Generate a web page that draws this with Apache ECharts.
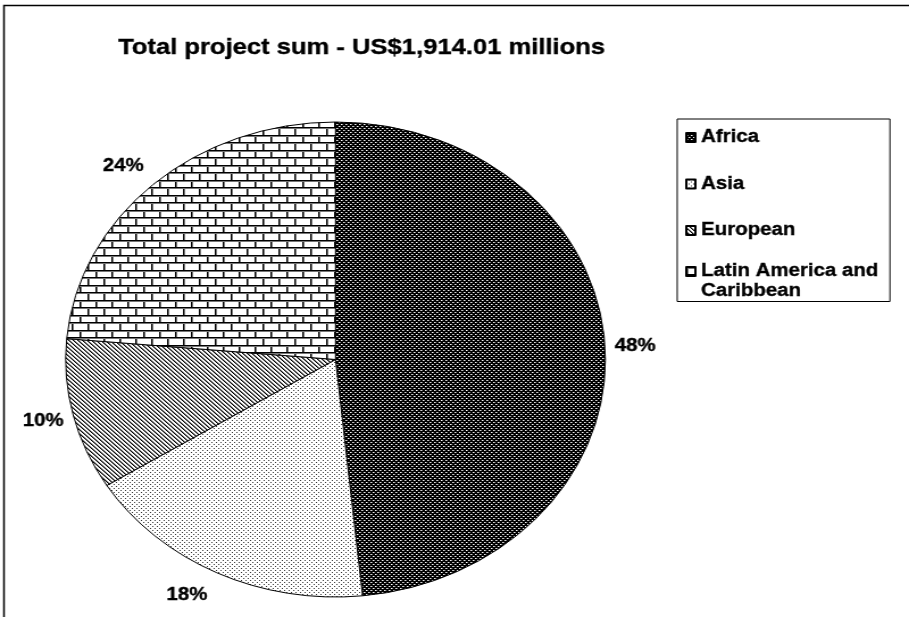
<!DOCTYPE html>
<html>
<head>
<meta charset="utf-8">
<script src="https://cdn.jsdelivr.net/npm/echarts@6/dist/echarts.min.js"></script>
<style>
html,body{margin:0;padding:0;background:#fff;overflow:hidden;width:909px;height:617px;}
#chart{width:800px;height:617px;transform:scaleX(1.13625);transform-origin:0 0;}
</style>
</head>
<body>
<div id="chart"></div>
<script>
// ---- data ----
const titleText = 'Total project sum - US$1,914.01 millions';
const categories = ['Africa', 'Asia', 'European', 'Latin America and Caribbean'];
const shares = [48.4, 17.7, 10.3, 23.6]; // percent of total

// ---- patterns ----
function makeTile(w, h, draw) {
  const c = document.createElement('canvas');
  c.width = w; c.height = h;
  const ctx = c.getContext('2d');
  draw(ctx, w, h);
  return c;
}
const patAfrica = makeTile(4, 4, (ctx) => {
  ctx.fillStyle = '#000'; ctx.fillRect(0, 0, 4, 4);
  ctx.fillStyle = '#ffffff'; ctx.fillRect(0, 0, 1, 1); ctx.fillRect(2, 2, 1, 1);
  ctx.fillStyle = '#888'; ctx.fillRect(1, 0, 1, 1); ctx.fillRect(3, 2, 1, 1);
});
const patAsia = makeTile(4, 4, (ctx) => {
  ctx.fillStyle = '#fff'; ctx.fillRect(0, 0, 4, 4);
  ctx.fillStyle = '#333'; ctx.fillRect(0, 0, 1, 1); ctx.fillRect(2, 2, 1, 1);
});
const patEurope = makeTile(4, 4, (ctx) => {
  ctx.fillStyle = '#fff'; ctx.fillRect(0, 0, 4, 4);
  for (let y = 0; y < 4; y++) for (let x = 0; x < 4; x++) {
    const m = ((x - y) % 4 + 4) % 4;
    if (m === 0) { ctx.fillStyle = '#000'; ctx.fillRect(x, y, 1, 1); }
    else if (m === 1) { ctx.fillStyle = '#808080'; ctx.fillRect(x, y, 1, 1); }
  }
});
const patLatin = makeTile(14, 15, (ctx) => {
  ctx.fillStyle = '#fff'; ctx.fillRect(0, 0, 14, 15);
  ctx.fillStyle = '#000';
  ctx.fillRect(0, 0, 14, 1); ctx.fillRect(0, 7, 14, 1);
  ctx.fillRect(0, 0, 1, 7); ctx.fillRect(7, 7, 1, 8);
  ctx.fillStyle = '#777';
  ctx.fillRect(0, 1, 14, 1); ctx.fillRect(0, 8, 14, 1);
  ctx.fillRect(1, 1, 1, 6); ctx.fillRect(8, 8, 1, 7);
});
const patterns = [patAfrica, patAsia, patEurope, patLatin];

// ---- layout ----
const pieCenter = [295.3, 359.5];
const pieRadius = 237.5;
const labelGapX = 26.4;
const labelGapY = 24.5;
const font = 'Liberation Sans, Arial, sans-serif';
const heavy = { textBorderColor: '#000', textBorderWidth: 0.35 };

// legend icons: square placed inside a taller icon box so that the
// two-line legend entry keeps its square next to the first line
const iconMid = 'path://M0,10h8v9h-8z M0,0 M0,29';
const iconTop = 'path://M0,0h8v9h-8z M0,29';

const total = shares.reduce((a, b) => a + b, 0);
function midAngle(i) {
  let before = 0;
  for (let k = 0; k < i; k++) before += shares[k];
  return (before + shares[i] / 2) / total * Math.PI * 2;
}

const chart = echarts.init(document.getElementById('chart'), null, { renderer: 'canvas' });
chart.setOption({
  animation: false,
  backgroundColor: '#fff',
  graphic: [{
    type: 'rect', silent: true, z: -1,
    shape: { x: 3.5, y: 5.5, width: 2000, height: 2000 },
    style: { fill: 'none', stroke: '#000', lineWidth: 1.5 }
  }],
  title: {
    text: titleText, left: 104, top: 37, padding: 0,
    textStyle: Object.assign({ fontFamily: font, fontWeight: 'bold', fontSize: 22.5, color: '#000', lineHeight: 22 }, heavy)
  },
  legend: {
    orient: 'vertical', left: 596, top: 119, padding: [3, 10, 0, 7],
    itemGap: 15.5, itemWidth: 8, itemHeight: 29,
    borderColor: '#000', borderWidth: 1, backgroundColor: '#fff',
    selectedMode: false,
    textStyle: Object.assign({ fontFamily: font, fontWeight: 'bold', fontSize: 18, color: '#000', lineHeight: 20 }, heavy),
    formatter: (name) => name === 'Latin America and Caribbean' ? 'Latin America and\nCaribbean' : name,
    data: categories.map((c, i) => ({ name: c, icon: i === categories.length - 1 ? iconTop : iconMid }))
  },
  series: [{
    type: 'pie',
    center: pieCenter,
    radius: pieRadius,
    startAngle: 90,
    clockwise: true,
    avoidLabelOverlap: false,
    emphasis: { disabled: true },
    itemStyle: { borderColor: '#000', borderWidth: 1 },
    label: Object.assign({
      show: true, position: 'outside',
      formatter: (p) => Math.round(p.percent) + '%',
      fontFamily: font, fontWeight: 'bold', fontSize: 18, color: '#000'
    }, heavy),
    labelLine: { show: false },
    labelLayout: (params) => {
      const a = midAngle(params.dataIndex);
      const ex = pieCenter[0] + pieRadius * Math.sin(a);
      const ey = pieCenter[1] - pieRadius * Math.cos(a);
      return {
        x: ex + Math.sign(Math.sin(a)) * labelGapX,
        y: ey - Math.cos(a) * labelGapY,
        align: 'center', verticalAlign: 'middle'
      };
    },
    data: categories.map((c, i) => ({
      name: c, value: shares[i],
      itemStyle: { color: { image: patterns[i], repeat: 'repeat' } }
    }))
  }]
});
</script>
</body>
</html>
